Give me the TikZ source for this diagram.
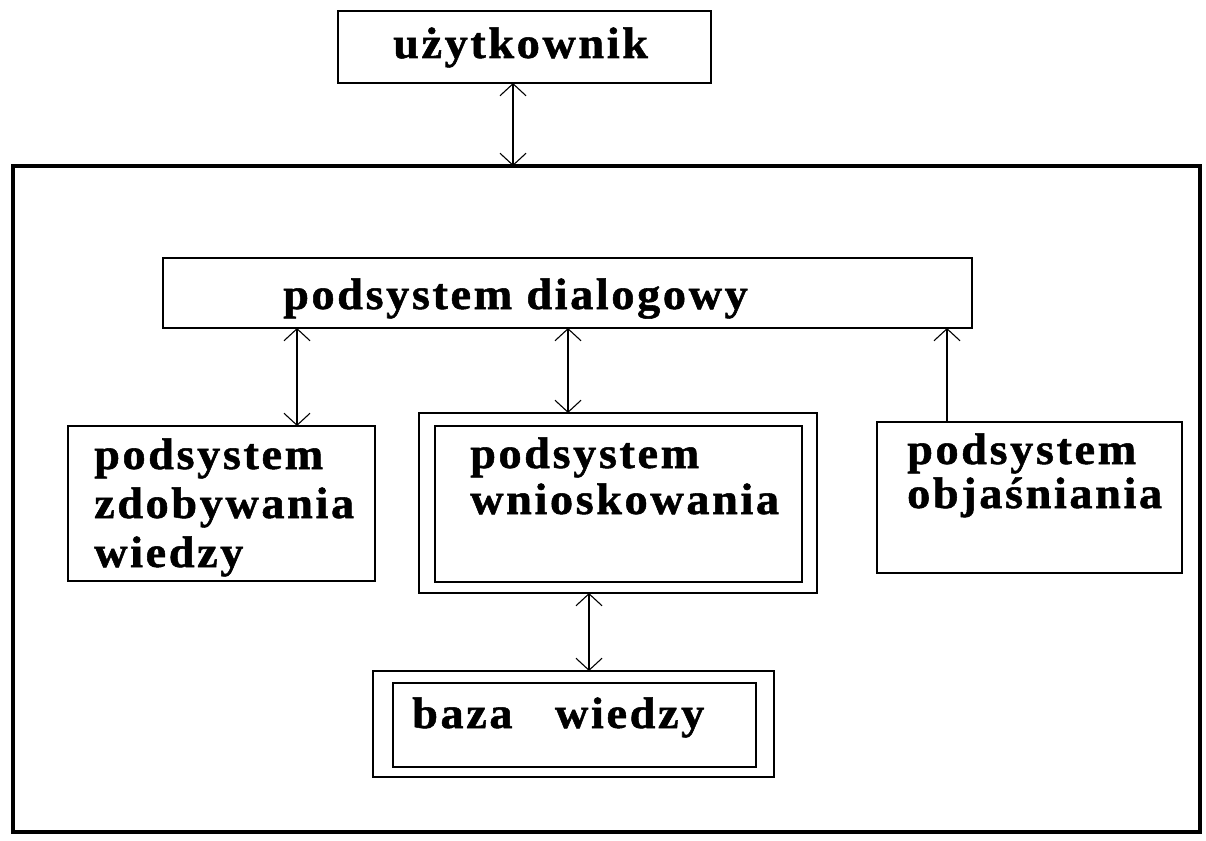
\documentclass[tikz,border=0pt]{standalone}
\usepackage{fontspec}
\setmainfont{Liberation Serif}[LetterSpace=6,FakeStretch=1.05,BoldFeatures={FakeBold=1.2}]
\usetikzlibrary{arrows.meta}
\begin{document}
\begin{tikzpicture}[x=1pt,y=-1pt,
  box/.style={draw, line width=1.5pt, inner sep=0pt, outer sep=0pt, anchor=north west},
  frame/.style={draw, line width=4pt, inner sep=0pt, outer sep=0pt, anchor=north west},
  lbl/.style={anchor=base west, inner sep=0pt, font=\fontsize{44}{48}\selectfont\bfseries},
  barb/.tip={Straight Barb[length=12pt,width=26pt,line width=1.1pt]},
  conn/.style={line width=1.5pt, barb-barb},
  connup/.style={line width=1.5pt, -barb},
]
\useasboundingbox (0,0) rectangle (1206,840);

% boxes
\node[box, minimum width=373pt, minimum height=72pt] (user) at (338,11) {};
\node[frame, minimum width=1187pt, minimum height=666pt] (outer) at (13,166) {};
\node[box, minimum width=809pt, minimum height=70pt] (dialog) at (163,258) {};
\node[box, minimum width=307pt, minimum height=155pt] (zdob) at (68,426) {};
\node[box, minimum width=398pt, minimum height=180pt] (wnio) at (419,413) {};
\node[box, minimum width=367pt, minimum height=156pt] (wnioin) at (435,426) {};
\node[box, minimum width=305pt, minimum height=151pt] (obj) at (877,422) {};
\node[box, minimum width=401pt, minimum height=106pt] (baza) at (373,671) {};
\node[box, minimum width=363pt, minimum height=84pt] (bazain) at (393,683) {};

% labels
\node[lbl] (tuser) at (393,58) {użytkownik};
\node[lbl] (tdialog) at (283,309) {podsystem dialogowy};
\node[lbl] (tzdob1) at (94,469) {podsystem};
\node[lbl] (tzdob2) at (94,518) {zdobywania};
\node[lbl] (tzdob3) at (94,567) {wiedzy};
\node[lbl] (twnio1) at (470,468) {podsystem};
\node[lbl] (twnio2) at (470,514) {wnioskowania};
\node[lbl] (tobj1) at (907,464) {podsystem};
\node[lbl] (tobj2) at (907,508) {objaśniania};
\node[lbl] (tbaza) at (412,728) {baza\ \ \ wiedzy};

% connector columns
\coordinate (cu) at (513,0);
\coordinate (cl) at (297,0);
\coordinate (cm) at (568,0);
\coordinate (cr) at (947,0);
\coordinate (cb) at (589,0);

% connectors
\draw[conn] (user.south -| cu) -- (outer.north -| cu);
\draw[conn] (dialog.south -| cl) -- (zdob.north -| cl);
\draw[conn] (dialog.south -| cm) -- (wnio.north -| cm);
\draw[connup] (obj.north -| cr) -- (dialog.south -| cr);
\draw[conn] (wnio.south -| cb) -- (baza.north -| cb);
\end{tikzpicture}
\end{document}
